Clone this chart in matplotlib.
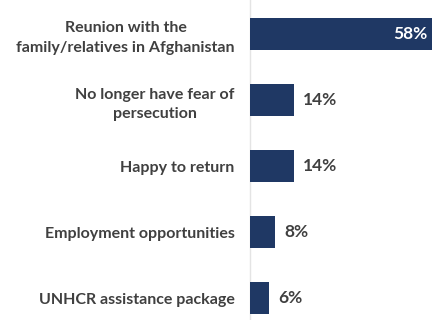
import matplotlib.pyplot as plt

reasons = [
    "Reunion with the\nfamily/relatives in Afghanistan",
    "No longer have fear of\npersecution",
    "Happy to return",
    "Employment opportunities",
    "UNHCR assistance package",
]
shares = [58, 14, 14, 8, 6]

bar_color = "#1f3864"
text_color = "#404040"

plt.rcParams['font.family'] = ['Lato', 'DejaVu Sans']

fig = plt.figure(figsize=(4.33, 3.2), dpi=100)
ax = fig.add_axes([250 / 433, 0, 1 - 250 / 433, 1])

pos = list(range(len(reasons)))
ax.barh(pos, shares, height=0.48, color=bar_color, zorder=3)

ax.set_xlim(0, 58.3)
ax.set_ylim(4.333, -0.515)

ax.set_yticks(pos)
ax.set_yticklabels(reasons, fontsize=11.5, fontweight='bold', color=text_color,
                   multialignment='center', linespacing=1.5)
ax.tick_params(axis='y', length=0, pad=11)
ax.set_xticks([])

for p, v in zip(pos, shares):
    if v > 40:
        ax.text(v - 1.5, p, f"{v}%", ha='right', va='center', color='white',
                fontsize=12.5, fontweight='bold')
    else:
        ax.text(v + 3, p, f"{v}%", ha='left', va='center', color=text_color,
                fontsize=12.5, fontweight='bold')

for side in ['top', 'right', 'bottom']:
    ax.spines[side].set_visible(False)
ax.spines['left'].set_color('#e4e4e4')
ax.spines['left'].set_linewidth(1)

fig.savefig("out.png", dpi=100)
